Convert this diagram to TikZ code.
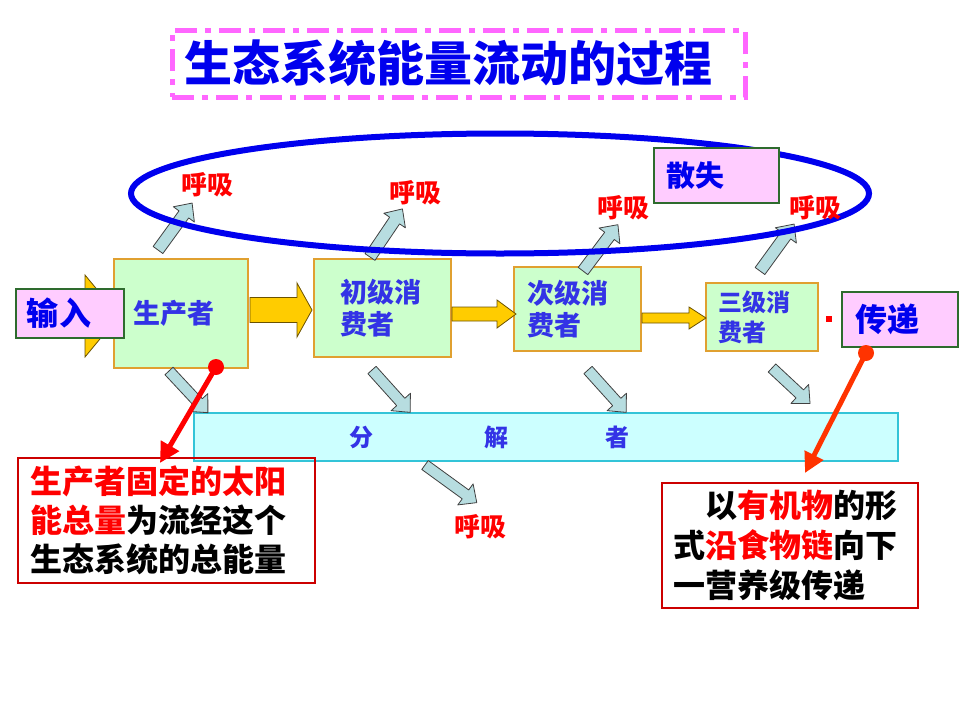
\documentclass[tikz,border=0pt]{standalone}
\usepackage{fontspec}
\setmainfont{Noto Sans CJK SC}
\usepackage{tikz}
\usetikzlibrary{shapes,backgrounds,arrows,arrows.meta}

\definecolor{txtblue}{HTML}{3333E6}
\definecolor{deepblue}{HTML}{0000EE}
\definecolor{boxgreen}{HTML}{CCFFCC}
\definecolor{boxedge}{HTML}{E0A030}
\definecolor{boxpink}{HTML}{FFCCFF}
\definecolor{pinkedge}{HTML}{2E6B2E}
\definecolor{decfill}{HTML}{CCFFFF}
\definecolor{decedge}{HTML}{33C4D8}
\definecolor{arrfill}{HTML}{B7DDE0}
\definecolor{yellowfill}{HTML}{FFCC00}
\definecolor{yellowedge}{HTML}{6B5200}
\definecolor{noteedge}{HTML}{CC0000}
\definecolor{titleedge}{HTML}{FF66FF}
\definecolor{orangered}{HTML}{FF3300}

\newcommand{\blockarrow}[7]{%
	\begin{scope}[shift={#2}, rotate=#3]
		\draw[#1] (0,-#5) -- ({#4-#7},-#5) -- ({#4-#7},-#6) -- (#4,0) -- ({#4-#7},#6) -- ({#4-#7},#5) -- (0,#5) -- cycle;
	\end{scope}}

\tikzset{
	greenbox/.style={draw=boxedge, fill=boxgreen, line width=1.3pt, align=left, text=txtblue, font=\fontsize{27}{32}\selectfont\bfseries},
	pinkbox/.style={draw=pinkedge, fill=boxpink, line width=1.3pt, align=left, text=deepblue, font=\fontsize{32}{38}\selectfont\bfseries},
	notebox/.style={draw=noteedge, line width=1.3pt, align=left, font=\fontsize{32}{39}\selectfont\bfseries},
	breath/.style={text=red, inner sep=0pt, font=\fontsize{26}{30}\selectfont\bfseries},
	bluearrow/.style={draw=black!75, fill=arrfill, line width=0.8pt, line join=round},
	yellowarrow/.style={draw=yellowedge, fill=yellowfill, line width=0.8pt},
	pointer/.style={line width=5pt, -{Triangle[length=20pt,width=20pt]}},
}

\begin{document}
\begin{tikzpicture}[x=1pt, y=-1pt]
			\useasboundingbox (0,0) rectangle (960,720);
			\coordinate (dot1) at (216,367);
			\coordinate (tip1) at (160,463);
			\coordinate (dot2) at (866,353);
			\coordinate (tip2) at (805,473);
			% input arrow, mostly hidden
			\blockarrow{yellowarrow}{(40,316)}{0}{79}{15}{41}{34}
			\node[greenbox, minimum width=134pt, minimum height=109pt, text width=96pt, inner xsep=19pt] (prod) at (181,313.5) {生产者};
			\node[greenbox, minimum width=137pt, minimum height=98pt, text width=85pt, inner xsep=26pt] (con1) at (382.5,308) {初级消\\费者};
			\node[greenbox, minimum width=127pt, minimum height=84pt, text width=101pt, inner xsep=13pt] (con2) at (577.5,309) {次级消\\费者};
			\node[greenbox, minimum width=112pt, minimum height=68pt, text width=88pt, inner xsep=12pt, font=\fontsize{24}{30}\selectfont\bfseries] (con3) at (762,317) {三级消\\费者};
			\node[pinkbox, minimum width=108pt, minimum height=49pt, text width=86pt, inner xsep=11pt] (input) at (70,313.5) {输入};
			\node[pinkbox, minimum width=116pt, minimum height=55pt, text width=90pt, inner xsep=13pt] (pass) at (900,319.5) {传递};
			% food chain
			\blockarrow{yellowarrow}{(250,310)}{0}{62}{12.5}{27}{15}
			\blockarrow{yellowarrow}{(452,314)}{0}{64}{7}{14}{19}
			\blockarrow{yellowarrow}{(642,318)}{0}{64}{5}{11}{17}
			\node[draw=decedge, fill=decfill, line width=1.3pt, minimum width=704pt, minimum height=48pt, text width=394pt, inner xsep=155pt, align=left, text=txtblue, font=\fontsize{24}{28}\selectfont\bfseries] (dec) at (546,437) {分\hspace{111pt}解\hspace{97pt}者};
			% respiration and decomposition
			\foreach \x/\y/\a in {158/250/54, 370/257/56, 583/271/53, 760/271/54}
			\blockarrow{bluearrow}{(\x,\y)}{\a}{58}{6}{13}{14};
			\foreach \x/\y/\a/\l in {169/371/-47/57, 372/370/-48/57, 588/370/-48/57, 772/368/-43/52, 425/465/-36/64}
			\blockarrow{bluearrow}{(\x,\y)}{\a}{\l}{5.5}{13}{14};
			\draw[deepblue, line width=6pt] (500,193.5) ellipse [x radius=369pt, y radius=60pt];
			\node[pinkbox, minimum width=125pt, minimum height=55pt, text width=101pt, inner xsep=12pt, font=\fontsize{29}{34}\selectfont\bfseries] (lost) at (716.5,175.5) {散失};
			\node[breath] (r1) at (207,185) {呼吸};
			\node[breath] (r2) at (415,193) {呼吸};
			\node[breath] (r3) at (623,208) {呼吸};
			\node[breath] (r4) at (815,208) {呼吸};
			\node[breath] (r5) at (480,527) {呼吸};
			\node[draw=titleedge, line width=5pt, dash pattern=on 22pt off 8pt on 6pt off 8pt, minimum width=573pt, minimum height=67pt, text width=549pt, inner xsep=12pt, align=left, text=deepblue, font=\fontsize{48}{56}\selectfont\bfseries] (title) at (458.5,63.5) {生态系统能量流动的过程};
			\node[notebox, minimum width=297pt, minimum height=125pt, text width=273pt, inner xsep=12pt] (note1) at (166.5,520.5) {\textcolor{red}{生产者固定的太阳}\\\textcolor{red}{能总量}为流经这个\\生态系统的总能量};
			\node[notebox, minimum width=256pt, minimum height=125pt, text width=234pt, inner xsep=11pt, font=\fontsize{32}{40}\selectfont\bfseries] (note2) at (790,545.5) {\hspace*{32pt}以\textcolor{red}{有机物}的形\\式\textcolor{red}{沿食物链}向下\\一营养级传递};
			% pointers
			\fill[red] (dot1) circle (8pt);
			\draw[pointer, red] (dot1) -- (tip1);
			\fill[orangered] (dot2) circle (8pt);
			\draw[pointer, orangered] (dot2) -- (tip2);
			\fill[red] (826,316) rectangle (832,322);
		\end{tikzpicture}
\end{document}
